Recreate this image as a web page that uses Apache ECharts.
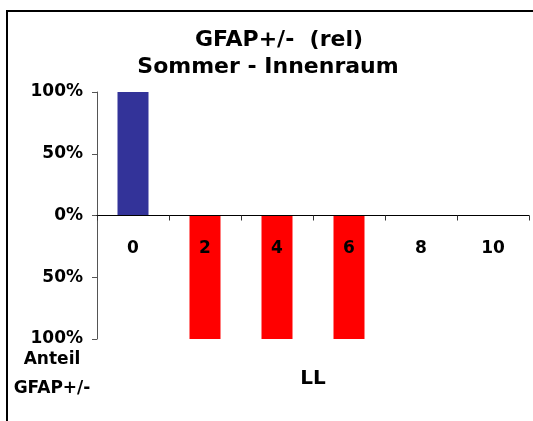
<!DOCTYPE html>
<html>
<head>
<meta charset="utf-8">
<script src="https://cdn.jsdelivr.net/npm/echarts@6/dist/echarts.min.js"></script>
<style>
html,body{margin:0;padding:0;background:#fff;}
#chart{width:533px;height:421px;}
</style>
</head>
<body>
<div id="chart"></div>
<script>
// Data
var categories = ['0', '2', '4', '6', '8', '10'];
var positiveShare = [100, null, null, null, null, null];   // GFAP+ (blue)
var negativeShare = [null, -100, -100, -100, null, null];  // GFAP- (red, drawn downward)
var yTicks = [-100, -50, 0, 50, 100];
var titleLine1 = 'GFAP+/-  (rel)';
var titleLine2 = 'Sommer - Innenraum';
var xName = 'LL';
var yNameLines = ['Anteil', 'GFAP+/-'];

var FONT = 'DejaVu Sans';
var GRID_TOP = 92, GRID_BOTTOM = 82, H = 421;
var gridH = H - GRID_TOP - GRID_BOTTOM;
// zero lies in the middle of the symmetric value range -> move the category axis up to it
var zeroOffset = -gridH * (0 - yTicks[0]) / (yTicks[yTicks.length - 1] - yTicks[0]);

var chart = echarts.init(document.getElementById('chart'), null, {renderer: 'canvas'});
chart.setOption({
  backgroundColor: '#ffffff',
  animation: false,
  title: [
    {text: titleLine1, left: 279, top: 29, padding: 0, textAlign: 'center',
     textStyle: {fontFamily: FONT, fontWeight: 'bold', fontSize: 22, color: '#000'}},
    {text: titleLine2, left: 268, top: 56, padding: 0, textAlign: 'center',
     textStyle: {fontFamily: FONT, fontWeight: 'bold', fontSize: 22, color: '#000'}}
  ],
  grid: {left: 97, right: 4, top: GRID_TOP, bottom: GRID_BOTTOM, containLabel: false, outerBoundsMode: 'none'},
  xAxis: {
    type: 'category',
    data: categories,
    z: 10,
    position: 'bottom',
    offset: zeroOffset,
    name: xName,
    nameLocation: 'middle',
    nameGap: 153,
    nameTextStyle: {fontFamily: FONT, fontWeight: 'bold', fontSize: 20, color: '#000'},
    axisLine: {onZero: false, lineStyle: {color: '#000', width: 1}},
    axisTick: {show: true, length: 5, lineStyle: {color: '#333'}},
    axisLabel: {margin: 25, fontFamily: FONT, fontWeight: 'bold', fontSize: 17, color: '#000'},
    splitLine: {show: false}
  },
  yAxis: {
    type: 'value',
    min: yTicks[0],
    max: yTicks[yTicks.length - 1],
    interval: 50,
    axisLine: {show: true, lineStyle: {color: '#555', width: 1}},
    axisTick: {show: true, length: 5, lineStyle: {color: '#555'}},
    axisLabel: {
      margin: 14, fontFamily: FONT, fontWeight: 'bold', fontSize: 17, color: '#000',
      formatter: function (v) { return Math.abs(v) + '%'; }
    },
    splitLine: {show: false}
  },
  series: [
    {type: 'bar', name: 'GFAP+', stack: 'g', data: positiveShare, barWidth: 31,
     itemStyle: {color: '#333399'}},
    {type: 'bar', name: 'GFAP-', stack: 'g', data: negativeShare, barWidth: 31,
     itemStyle: {color: '#ff0000'}}
  ],
  graphic: [
    {type: 'rect', shape: {x: 7, y: 11, width: 700, height: 700}, silent: true,
     style: {fill: 'none', stroke: '#000', lineWidth: 2}},
    {type: 'text', x: 52, y: 360, style: {text: yNameLines[0], x: 0, y: 0, align: 'center', verticalAlign: 'middle',
      font: 'bold 17px "DejaVu Sans"', fill: '#000'}},
    {type: 'text', x: 52, y: 389, style: {text: yNameLines[1], x: 0, y: 0, align: 'center', verticalAlign: 'middle',
      font: 'bold 17px "DejaVu Sans"', fill: '#000'}}
  ]
});
</script>
</body>
</html>
